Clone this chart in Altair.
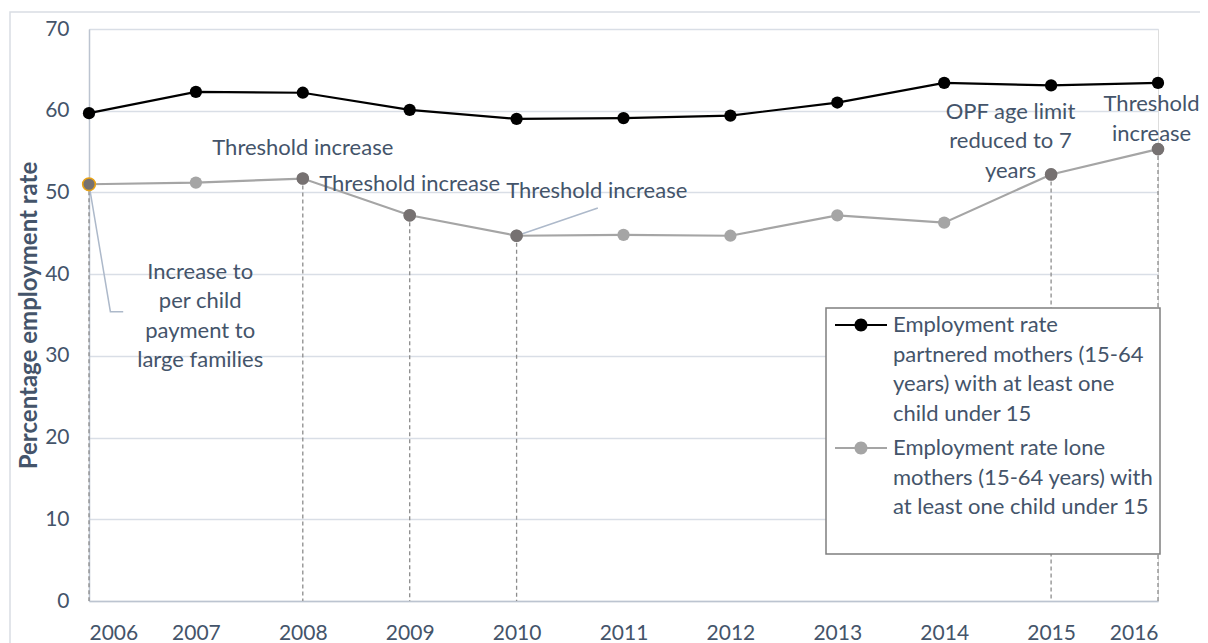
import altair as alt
import pandas as pd

# ---- data ----
years = [2006, 2007, 2008, 2009, 2010, 2011, 2012, 2013, 2014, 2015, 2016]
partnered = [59.7, 62.3, 62.2, 60.1, 59.0, 59.1, 59.4, 61.0, 63.4, 63.1, 63.4]
lone = [51.0, 51.2, 51.7, 47.2, 44.7, 44.8, 44.7, 47.2, 46.3, 52.2, 55.3]
series_names = [
    "Employment rate|partnered mothers (15-64|years) with at least one|child under 15",
    "Employment rate lone|mothers (15-64 years) with|at least one child under 15|",
]
marked_years = [2006, 2008, 2009, 2010, 2015, 2016]

ann_text = [
    "Threshold increase",
    "Threshold increase",
    "Threshold increase",
    "Increase to|per child|payment to|large families",
    "OPF age limit|reduced to 7|years",
    "Threshold|increase",
]
ann_x = [2008.0, 2009.0, 2010.75, 2007.04, 2014.62, 2015.94]
ann_y = [55.4, 51.0, 50.2, 40.3, 59.85, 60.8]

leader_id = ["a", "a", "a", "b", "b"]
leader_x = [2006.0, 2006.2, 2006.32, 2010.0, 2010.76]
leader_y = [51.0, 35.4, 35.4, 44.7, 48.1]

# ---- tables ----
df = pd.DataFrame({
    "year": years * 2,
    "value": partnered + lone,
    "series": [series_names[0]] * len(years) + [series_names[1]] * len(years),
})
part_df = pd.DataFrame({"year": years, "value": partnered})
lone_df = pd.DataFrame({"year": years, "value": lone})
marked_df = lone_df[lone_df["year"].isin(marked_years)]
first_df = lone_df[lone_df["year"] == marked_years[0]]
ann_df = pd.DataFrame({"x": ann_x, "y": ann_y, "t": ann_text})
lead_df = pd.DataFrame({"id": leader_id, "x": leader_x, "y": leader_y,
                        "o": list(range(len(leader_x)))})

TXT = "#44546A"
FONT = "Lato"

xs = alt.Scale(domain=[2006, 2016], nice=False, zero=False)
ys = alt.Scale(domain=[0, 70], nice=False)
color_scale = alt.Scale(domain=series_names, range=["#000000", "#A5A5A5"])

X = alt.X("year:Q", scale=xs, title=None,
          axis=alt.Axis(values=years, format="d", grid=False, ticks=False,
                        labelPadding=21, labelFontSize=21, labelFont=FONT,
                        labelColor=TXT, domainColor="#BCC4D0", domainWidth=1.5))
Y = alt.Y("value:Q", scale=ys, title="Percentage employment rate",
          axis=alt.Axis(values=[0, 10, 20, 30, 40, 50, 60, 70], ticks=False,
                        labelPadding=20, labelFontSize=21, labelFont=FONT,
                        labelColor=TXT, gridColor="#D9DEE6", gridWidth=1.5,
                        domainColor="#BCC4D0", domainWidth=1.5,
                        titleFont=FONT, titleFontSize=24, titleFontWeight="bold",
                        titleColor=TXT, titlePadding=3))

sym = ("M-3,-0.115H3V0.115H-3Z "
       "M0.75,0A0.75,0.75,0,1,1,-0.75,0A0.75,0.75,0,1,1,0.75,0Z")

legend = alt.Legend(
    title=None, orient="none", legendX=737, legendY=279, direction="vertical",
    symbolType=sym, symbolSize=300, symbolStrokeWidth=0, symbolOpacity=1,
    symbolOffset=18, labelOffset=21,
    labelExpr="split(datum.label, '|')", labelFont=FONT, labelFontSize=22,
    labelColor=TXT, labelLimit=500, labelBaseline="middle",
    strokeColor="#7F7F7F", fillColor="white", padding=6, rowPadding=12,
    zindex=1,
)

frame = alt.Chart(pd.DataFrame({"k": [0]})).mark_rect(
    fill="white", fillOpacity=0, stroke="#D9DDE3", strokeWidth=1.5
).encode(x=alt.value(-79), x2=alt.value(1300), y=alt.value(-17), y2=alt.value(800))

rules = alt.Chart(marked_df).mark_rule(
    strokeDash=[4, 3], color="#8C8C8C", strokeWidth=1.3
).encode(x=alt.X("year:Q", scale=xs), y=alt.Y("value:Q", scale=ys), y2=alt.datum(0))

leaders = alt.Chart(lead_df).mark_line(color="#ADB9CA", strokeWidth=1.5).encode(
    x=alt.X("x:Q", scale=xs), y=alt.Y("y:Q", scale=ys), detail="id:N", order="o:Q")

line_part = alt.Chart(part_df).mark_line(strokeWidth=2.2, color="#000000").encode(x=X, y=Y)
line_lone = alt.Chart(lone_df).mark_line(strokeWidth=2.2, color="#A5A5A5").encode(
    x=alt.X("year:Q", scale=xs), y=alt.Y("value:Q", scale=ys))

points = alt.Chart(df).mark_circle(size=150, opacity=1).encode(
    x=alt.X("year:Q", scale=xs), y=alt.Y("value:Q", scale=ys),
    color=alt.Color("series:N", scale=color_scale, legend=legend))

marked = alt.Chart(marked_df).mark_circle(size=160, opacity=1, color="#767171").encode(
    x=alt.X("year:Q", scale=xs), y=alt.Y("value:Q", scale=ys))

first = alt.Chart(first_df).mark_point(
    size=160, filled=True, fill="#767171", stroke="#E8A317", strokeWidth=1.6, opacity=1
).encode(x=alt.X("year:Q", scale=xs), y=alt.Y("value:Q", scale=ys))

texts = alt.Chart(ann_df).mark_text(
    font=FONT, fontSize=22, color=TXT, lineBreak="|", lineHeight=29.5,
    align="center", baseline="middle"
).encode(x=alt.X("x:Q", scale=xs), y=alt.Y("y:Q", scale=ys), text="t:N")

chart = alt.layer(frame, rules, leaders, line_part, line_lone, points, marked, first,
                  texts).properties(
    width=1069, height=572,
    padding={"left": 81, "top": 21, "right": 42, "bottom": 42},
    autosize=alt.AutoSizeParams(type="none"),
).configure_view(stroke=None).configure(
    background="white",
    style={"guide-label": {"lineHeight": 29.5}},
).configure_legend(strokeWidth=1.5)

chart.save("out.html", embed_options={"renderer": "svg", "actions": False})
